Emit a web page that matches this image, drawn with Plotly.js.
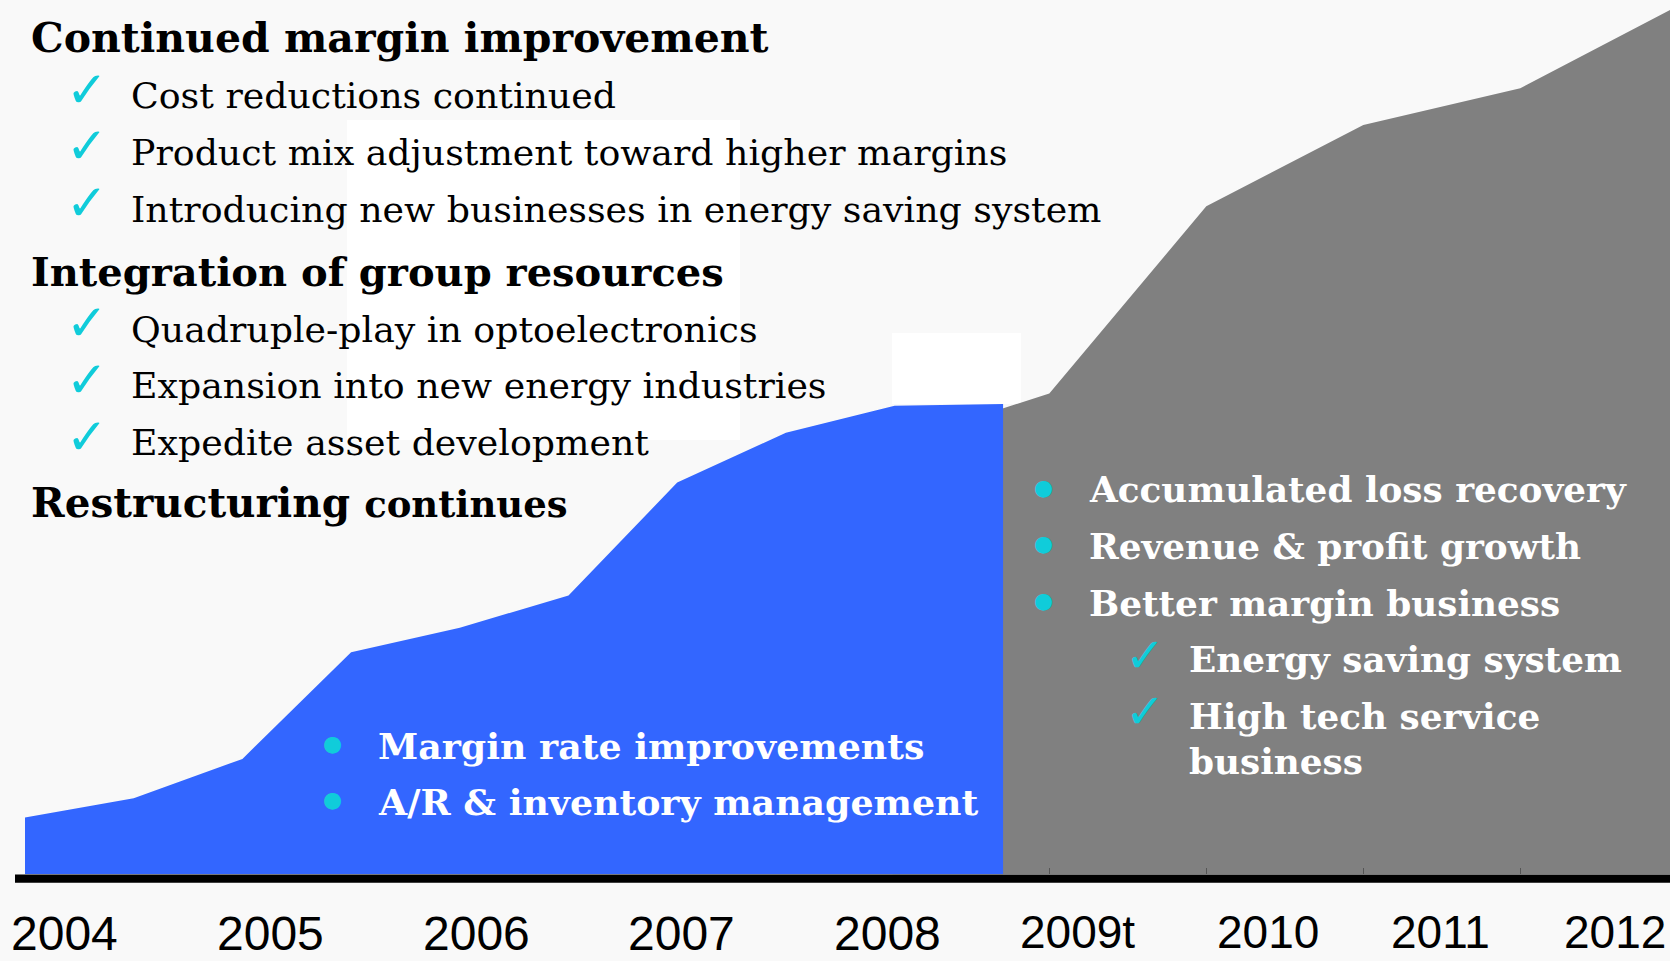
<!DOCTYPE html>
<html>
<head>
<meta charset="utf-8">
<script src="https://cdn.plot.ly/plotly-3.0.1.min.js"></script>
<style>
html,body{margin:0;padding:0;background:#f9f9f9;overflow:hidden;}
#chart{width:1670px;height:961px;}
</style>
</head>
<body>
<div id="chart"></div>
<script>
// ---------- data ----------
// actual results, half-year steps 2004 -> 2008 (index units)
const actualPeriods = [0, 1, 2, 3, 4, 5, 6, 7, 8, 9];
const actualValues  = [6.5, 8.7, 13.2, 25.4, 28.2, 31.9, 44.8, 50.5, 53.6, 53.8];
// outlook, yearly steps 2008 -> 2012 (index units)
const outlookPeriods = [0, 1, 2, 3, 4, 5];
const outlookValues  = [49.2, 55.0, 76.4, 85.7, 89.9, 99.3];

const actualYearLabels  = ['2004', '2005', '2006', '2007', '2008'];
const outlookYearLabels = ['2009t', '2010', '2011', '2012'];

const headings = ['Continued margin improvement', 'Integration of group resources', 'Restructuring'];
const headingTail = 'continues';
const marginItems = ['Cost reductions continued',
                     'Product mix adjustment toward higher margins',
                     'Introducing new businesses in energy saving system'];
const integrationItems = ['Quadruple-play in optoelectronics',
                          'Expansion into new energy industries',
                          'Expedite asset development'];
const actualBullets  = ['Margin rate improvements', 'A/R &amp; inventory management'];
const outlookBullets = ['Accumulated loss recovery', 'Revenue &amp; profit growth', 'Better margin business'];
const outlookChecks  = ['Energy saving system', 'High tech service', 'business'];

// ---------- layout helpers ----------
const W = 1670, H = 961;
const BASE = 874.3;                 // baseline of the area charts (px from top)
const px = x => x / W;
const py = y => 1 - y / H;

const SERIF = 'DejaVu Serif, Liberation Serif, serif';
const CYAN = '#10CCDA';

const annotations = [];
function txt(text, x, baseline, size, opt) {
  opt = opt || {};
  const asc = opt.ascShift !== undefined ? opt.ascShift : 0.346;
  annotations.push({
    text: text, showarrow: false, xref: 'paper', yref: 'paper',
    x: px(x), y: py(baseline - asc * size),
    xanchor: opt.xanchor || 'left', yanchor: 'middle', align: 'left',
    borderpad: 0,
    font: {family: opt.family || SERIF, size: size, color: opt.color || '#000'}
  });
}
function mark(sym, cx, cy, size) {
  annotations.push({
    text: sym, showarrow: false, xref: 'paper', yref: 'paper',
    x: px(cx), y: py(cy), xanchor: 'center', yanchor: 'middle', borderpad: 0,
    font: {family: 'DejaVu Sans', size: size, color: CYAN}
  });
}
const CHECK = '✓';

// left-hand text block
const headBase = [51.7, 285, 517];
const marginBase = [108.3, 165, 221.7];
const integBase = [341.7, 398.3, 455];
txt('<b>' + headings[0] + '</b>', 30, headBase[0], 41);
txt('<b>' + headings[1] + '</b>', 30, headBase[1], 40);
txt('<b>' + headings[2] + ' <span style="font-size:37px">' + headingTail + '</span></b>', 30, headBase[2], 40.5);
marginItems.forEach((t, i) => { txt(t, 130, marginBase[i], 36.3); mark(CHECK, 87, marginBase[i] - 18.5, 50); });
integrationItems.forEach((t, i) => { txt(t, 130, integBase[i], 36.3); mark(CHECK, 87, integBase[i] - 18.5, 50); });

// text inside the blue area
const actualBase = [759.3, 815];
actualBullets.forEach((t, i) => {
  txt('<b>' + t + '</b>', 377, actualBase[i], 36.3, {color: '#fff'});
  mark('●', 332, actualBase[i] - 16, 22);
});
// text inside the grey area
const outlookBase = [501.7, 558.3, 615];
outlookBullets.forEach((t, i) => {
  txt('<b>' + t + '</b>', 1088, outlookBase[i], 35.8, {color: '#fff'});
  mark('●', 1043, outlookBase[i] - 14.5, 22);
});
const checkBase = [671.7, 728.3, 773.3];
outlookChecks.forEach((t, i) => {
  txt('<b>' + t + '</b>', 1188, checkBase[i], 35.8, {color: '#fff'});
  if (i < 2) mark(CHECK, 1145, checkBase[i] - 17, 48);
});

// year labels under the axis
const actualLabelX = [64, 270, 476.5, 681, 887.5];
const outlookLabelX = [1077, 1268, 1440, 1615];
const LBL = 'Liberation Sans, Arial, sans-serif';
actualYearLabels.forEach((t, i) => txt(t, actualLabelX[i], 950, 48, {xanchor: 'center', family: LBL, ascShift: 0.3465}));
outlookYearLabels.forEach((t, i) => txt(t, outlookLabelX[i], 948, 46, {xanchor: 'center', family: LBL, ascShift: 0.3465}));

// ---------- traces ----------
const outlookTrace = {
  type: 'scatter', mode: 'lines', x: outlookPeriods, y: outlookValues,
  xaxis: 'x', yaxis: 'y', fill: 'tozeroy', fillcolor: '#808080',
  line: {width: 0, color: '#808080'}, hoverinfo: 'skip', name: 'Outlook'
};
const actualTrace = {
  type: 'scatter', mode: 'lines', x: actualPeriods, y: actualValues,
  xaxis: 'x2', yaxis: 'y', fill: 'tozeroy', fillcolor: '#3366FF',
  line: {width: 0, color: '#3366FF'}, hoverinfo: 'skip', name: 'Actual'
};

const STEP2 = 157;        // px per year on the outlook axis
const X2START = 892.3;    // px of first outlook period
const layout = {
  width: W, height: H,
  margin: {l: 0, r: 0, t: 0, b: 0, pad: 0},
  paper_bgcolor: '#f9f9f9', plot_bgcolor: 'rgba(0,0,0,0)',
  showlegend: false,
  xaxis: {
    domain: [px(X2START), 1], range: [0, (W - X2START) / STEP2], anchor: 'y',
    showgrid: false, zeroline: false, showline: false, showticklabels: false,
    tickmode: 'array', tickvals: [1, 2, 3, 4], ticks: 'inside', ticklen: 6,
    tickwidth: 1, tickcolor: '#555', fixedrange: true
  },
  xaxis2: {
    domain: [px(25), px(1003.3)], range: [0, 9], anchor: 'y',
    showgrid: false, zeroline: false, showline: false, showticklabels: false,
    ticks: '', fixedrange: true
  },
  yaxis: {
    domain: [1 - BASE / H, 1], range: [0, 100], anchor: 'x',
    visible: false, showgrid: false, zeroline: false, fixedrange: true
  },
  shapes: [
    {type: 'rect', xref: 'paper', yref: 'paper', layer: 'below',
     x0: px(347), x1: px(740), y0: py(440), y1: py(120),
     fillcolor: '#ffffff', line: {width: 0}},
    {type: 'rect', xref: 'paper', yref: 'paper', layer: 'below',
     x0: px(892), x1: px(1021), y0: py(404), y1: py(333),
     fillcolor: '#ffffff', line: {width: 0}},
    {type: 'line', xref: 'paper', yref: 'paper',
     x0: px(15), x1: 1, y0: py(878.6), y1: py(878.6),
     line: {color: '#000000', width: 8.4}}
  ],
  annotations: annotations
};

Plotly.newPlot('chart', [outlookTrace, actualTrace], layout, {staticPlot: true, displayModeBar: false});
</script>
</body>
</html>
